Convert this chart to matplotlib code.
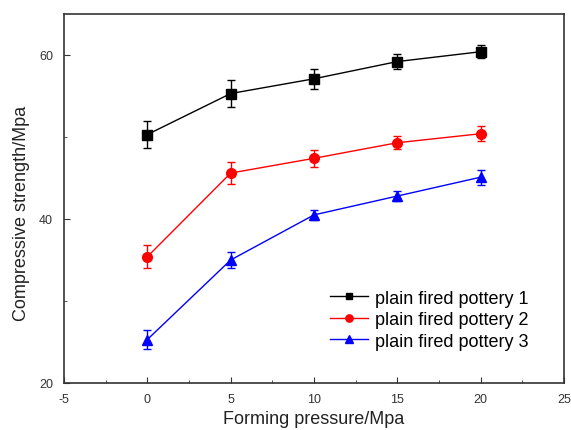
import matplotlib
matplotlib.use('Agg')
import matplotlib.pyplot as plt
from matplotlib.ticker import MultipleLocator

plt.rcParams['font.family'] = ['Liberation Sans', 'DejaVu Sans']
plt.rcParams['axes.unicode_minus'] = False

# forming pressure (Mpa)
pressure = [0, 5, 10, 15, 20]

# compressive strength (Mpa) and error bars
pottery1 = [50.3, 55.3, 57.1, 59.2, 60.4]
pottery1_err = [1.6, 1.7, 1.2, 0.9, 0.8]
pottery2 = [35.4, 45.6, 47.4, 49.3, 50.4]
pottery2_err = [1.4, 1.3, 1.0, 0.8, 0.9]
pottery3 = [25.3, 35.0, 40.5, 42.8, 45.1]
pottery3_err = [1.2, 1.0, 0.6, 0.6, 0.9]

labels = ['plain fired pottery 1', 'plain fired pottery 2', 'plain fired pottery 3']

fig = plt.figure(figsize=(5.71, 4.31), dpi=100)
ax = fig.add_axes([64 / 571, 1 - 384 / 431, 500 / 571, 369 / 431])

e1 = ax.errorbar(pressure, pottery1, yerr=pottery1_err, color='black', marker='s', markersize=6.5,
                 linewidth=1, capsize=3, elinewidth=1)
e2 = ax.errorbar(pressure, pottery2, yerr=pottery2_err, color='red', marker='o', markersize=7,
                 linewidth=1, capsize=3, elinewidth=1)
e3 = ax.errorbar(pressure, pottery3, yerr=pottery3_err, color='blue', marker='^', markersize=7.5,
                 linewidth=1, capsize=3, elinewidth=1)

ax.set_xlim(-5, 25)
ax.set_ylim(20, 65)
ax.xaxis.set_major_locator(MultipleLocator(5))
ax.xaxis.set_minor_locator(MultipleLocator(2.5))
ax.yaxis.set_major_locator(MultipleLocator(20))
ax.yaxis.set_minor_locator(MultipleLocator(10))
ax.tick_params(which='both', direction='in', top=False, right=False, labelsize=9, colors='#333333')
ax.tick_params(axis='x', pad=7)
ax.tick_params(axis='y', pad=8)
ax.tick_params(which='major', length=4)
ax.tick_params(which='minor', length=2.5)
for side in ax.spines.values():
    side.set_color('#333333')
    side.set_linewidth(1.2)

ax.set_xlabel('Forming pressure/Mpa', fontsize=13, color='#222222', labelpad=4)
ax.set_ylabel('Compressive strength/Mpa', fontsize=13, color='#222222')
ax.yaxis.set_label_coords(-0.067, 0.463)

ax.legend([e1.lines[0], e2.lines[0], e3.lines[0]], labels, loc='lower right',
          bbox_to_anchor=(0.961, 0.046), frameon=False, fontsize=13, markerscale=0.75,
          handlelength=2.1, handletextpad=0.4, labelspacing=0.25)

plt.savefig('out.png', dpi=100)
